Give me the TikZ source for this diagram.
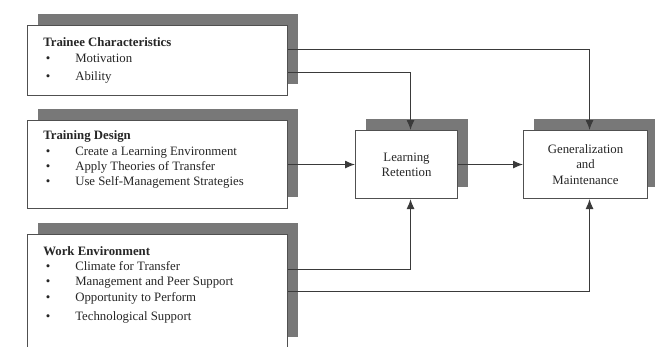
\documentclass[tikz,border=0pt]{standalone}
\usepackage{fontspec}
\setmainfont{Liberation Serif}
\usepackage{tikz}
\usetikzlibrary{positioning, arrows.meta, shadows}

\begin{document}
\begin{tikzpicture}[
    x=0.75pt, y=-0.75pt,
    >={Latex[length=7.5pt, width=6pt]},
    font=\fontsize{9.6pt}{11.5pt}\selectfont,
]

% ── Colors ──
\definecolor{boxborder}{HTML}{505050}
\definecolor{shadegray}{HTML}{787878}
\definecolor{linkgray}{HTML}{3A3A3A}
\definecolor{txtgray}{HTML}{262626}

\tikzset{
    factorbox/.style={rectangle, draw=boxborder, fill=white, line width=0.8pt,
        anchor=north west, inner sep=0pt,
        drop shadow={shadow xshift=8pt, shadow yshift=9pt, fill=shadegray, opacity=1}},
    factortext/.style={anchor=north west, align=left, inner sep=0pt, text=txtgray},
    link/.style={->, line width=0.8pt, linkgray},
}

\path[use as bounding box, clip] (0,0) rectangle (655,346);

% ══════════════════════════════════════════════
% Left column: input factors
% ══════════════════════════════════════════════
\node[factorbox, minimum width=195pt, minimum height=52.5pt] (trainee) at (27,25) {};
\node[factortext] (traineetext) at ([xshift=12pt, yshift=-9pt]trainee.north west) {
    \textbf{Trainee Characteristics}\\[1pt]
    \hspace*{2pt}\makebox[22pt][l]{\textbullet}Motivation\\[1.5pt]
    \hspace*{2pt}\makebox[22pt][l]{\textbullet}Ability
};

\node[factorbox, minimum width=195pt, minimum height=66pt] (training) at (27,120) {};
\node[factortext] (trainingtext) at ([xshift=12pt, yshift=-8pt]training.north west) {
    \textbf{Training Design}\\
    \hspace*{2pt}\makebox[22pt][l]{\textbullet}Create a Learning Environment\\
    \hspace*{2pt}\makebox[22pt][l]{\textbullet}Apply Theories of Transfer\\
    \hspace*{2pt}\makebox[22pt][l]{\textbullet}Use Self-Management Strategies
};

\node[factorbox, minimum width=195pt, minimum height=85.5pt] (work) at (27,234) {};
\node[factortext] (worktext) at ([xshift=12pt, yshift=-9pt]work.north west) {
    \textbf{Work Environment}\\
    \hspace*{2pt}\makebox[22pt][l]{\textbullet}Climate for Transfer\\
    \hspace*{2pt}\makebox[22pt][l]{\textbullet}Management and Peer Support\\
    \hspace*{2pt}\makebox[22pt][l]{\textbullet}Opportunity to Perform\\[3pt]
    \hspace*{2pt}\makebox[22pt][l]{\textbullet}Technological Support
};

% ══════════════════════════════════════════════
% Right: outcomes
% ══════════════════════════════════════════════
\node[factorbox, minimum width=76.5pt, minimum height=51pt, align=center,
    text=txtgray] (retention) at (355,130) {Learning\\Retention};

\node[factorbox, minimum width=93pt, minimum height=51pt, align=center,
    text=txtgray] (general) at (523,130) {Generalization\\and\\Maintenance};

% ══════════════════════════════════════════════
% Arrows
% ══════════════════════════════════════════════
\draw[link] ([yshift=8.25pt]trainee.east) -| ([xshift=3pt]general.north);
\draw[link] ([yshift=-9pt]trainee.east) -| ([xshift=3pt]retention.north);
\draw[link] (training.east) -- (retention.west);
\draw[link] (retention.east) -- (general.west);
\draw[link] ([yshift=16.5pt]work.east) -| ([xshift=3pt]retention.south);
\draw[link] (work.east) -| ([xshift=3pt]general.south);

\end{tikzpicture}
\end{document}
